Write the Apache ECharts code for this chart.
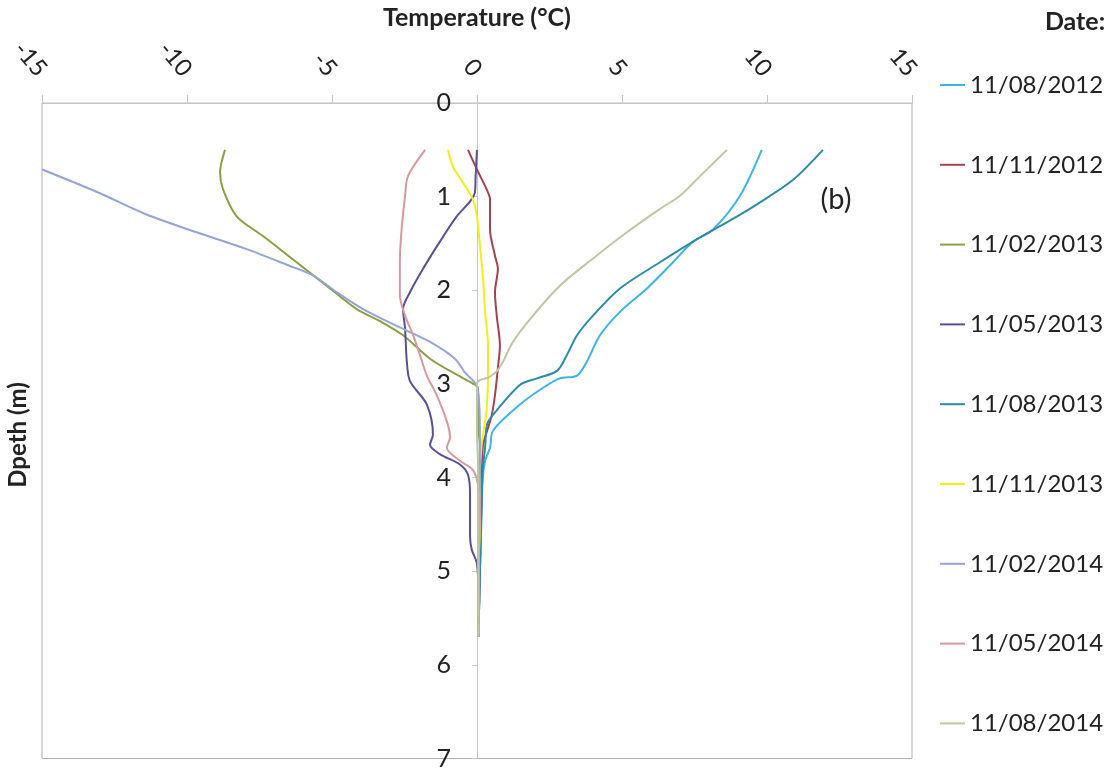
<!DOCTYPE html>
<html>
<head>
<meta charset="utf-8">
<script src="https://cdn.jsdelivr.net/npm/echarts@6/dist/echarts.min.js"></script>
<style>
html,body{margin:0;padding:0;background:#fff;}
#chart{width:1107px;height:771px;}
</style>
</head>
<body>
<div id="chart"></div>
<script>
// Depth profiles: [temperature (°C), depth (m)]
const dates = ['11/08/2012','11/11/2012','11/02/2013','11/05/2013','11/08/2013','11/11/2013','11/02/2014','11/05/2014','11/08/2014'];
const colors = ['#3fb3e3','#a3424f','#8a9f45','#5a4f93','#2e8aa6','#f0ef1c','#95a4d6','#d49a9e','#bec6a2'];
const xTicks = [-15,-10,-5,0,5,10,15];
const yTicks = [0,1,2,3,4,5,6,7];

const s2012_08 = [[9.82,0.5],[9.07,0.99],[8.14,1.35],[7.45,1.48],[6.76,1.70],[5.86,1.98],[4.93,2.23],[4.24,2.48],[3.79,2.76],[3.45,2.91],[2.86,2.94],[2.28,3.04],[1.48,3.22],[0.55,3.50],[0.45,3.68],[0.28,3.82],[0.2,4.0],[0.15,4.5],[0.1,5.0],[0.05,5.7]];
const s2012_11 = [[-0.31,0.5],[0,0.71],[0.33,0.92],[0.45,1.03],[0.45,1.35],[0.62,1.63],[0.72,1.77],[0.62,2.02],[0.68,2.27],[0.79,2.59],[0.72,2.83],[0.62,3.12],[0.51,3.33],[0.35,3.5],[0.21,3.65],[0.16,3.92],[0.15,4.3],[0.1,5.0],[0.05,5.7]];
const s2013_02 = [[-8.69,0.5],[-8.86,0.74],[-8.76,0.92],[-8.29,1.21],[-7.38,1.42],[-6.22,1.70],[-5.07,1.98],[-4.15,2.20],[-3.34,2.33],[-2.55,2.48],[-1.62,2.73],[-0.59,2.92],[-0.17,2.99],[0.03,3.04],[0.05,3.5],[0.1,3.65],[0.1,4.0],[0.1,4.5],[0.05,5.0],[0.05,5.7]];
const s2013_05 = [[0,0.5],[-0.05,0.8],[-0.07,0.95],[-0.24,1.05],[-0.70,1.21],[-1.28,1.48],[-1.86,1.77],[-2.31,2.02],[-2.55,2.2],[-2.48,2.41],[-2.42,2.76],[-2.31,2.97],[-1.73,3.22],[-1.52,3.54],[-1.62,3.65],[-1.28,3.75],[-0.59,3.86],[-0.31,3.97],[-0.24,4.18],[-0.24,4.63],[-0.18,4.77],[0,4.92],[0.05,5.3],[0.05,5.7]];
const s2013_08 = [[11.93,0.5],[10.9,0.82],[9.76,1.06],[8.97,1.21],[7.45,1.48],[6.31,1.70],[4.93,1.98],[4.0,2.27],[3.45,2.48],[3.1,2.69],[2.76,2.86],[2.07,2.94],[1.48,3.01],[0.55,3.33],[0.34,3.44],[0.28,3.68],[0.2,3.9],[0.15,4.3],[0.1,5.0],[0.05,5.7]];
const s2013_11 = [[-1.0,0.5],[-0.83,0.68],[-0.48,0.85],[-0.14,1.03],[0,1.21],[0.1,1.52],[0.21,1.88],[0.28,2.23],[0.38,2.59],[0.38,2.94],[0.33,3.29],[0.28,3.40],[0.16,3.65],[0.1,4.0],[0.1,4.5],[0.05,5.0],[0.05,5.7]];
const s2014_02 = [[-15,0.71],[-13.1,0.95],[-11.4,1.19],[-9.67,1.38],[-7.94,1.56],[-6.45,1.74],[-5.66,1.84],[-4.84,2.02],[-3.93,2.20],[-2.77,2.38],[-1.62,2.55],[-0.76,2.73],[-0.41,2.88],[-0.07,2.99],[0.05,3.1],[0.1,3.5],[0.1,4.0],[0.05,5.0],[0.05,5.7]];
const s2014_05 = [[-1.79,0.5],[-2.38,0.78],[-2.48,0.99],[-2.60,1.35],[-2.66,1.70],[-2.66,2.05],[-2.48,2.27],[-2.2,2.48],[-1.97,2.69],[-1.73,2.91],[-1.39,3.12],[-1.04,3.40],[-0.93,3.57],[-1.04,3.68],[-0.59,3.82],[-0.14,3.92],[0.03,4.07],[0.1,4.35],[0.05,5.0],[0.05,5.7]];
const s2014_08 = [[8.62,0.5],[7.69,0.78],[7.0,0.99],[6.31,1.13],[5.17,1.38],[4.0,1.66],[2.86,1.95],[1.93,2.27],[1.24,2.55],[0.90,2.76],[0.69,2.86],[0.4,2.93],[0.1,2.96],[0,3.0],[0,3.5],[0.05,4.0],[0.05,5.0],[0.05,5.7]];

const seriesData = [s2012_08,s2012_11,s2013_02,s2013_05,s2013_08,s2013_11,s2014_02,s2014_05,s2014_08];

const FONT = 'Lato, "Open Sans", sans-serif';
const chart = echarts.init(document.getElementById('chart'), null, {renderer:'canvas'});

const GRID_L = 42, GRID_R = 195, W = 1107;
const plotW = W - GRID_L - GRID_R;

const option = {
  animation: false,
  backgroundColor: '#ffffff',
  color: colors,
  textStyle: {fontFamily: FONT},
  grid: {left: GRID_L, right: GRID_R, top: 103, bottom: 8, show: true, borderColor: '#b0b0b0', borderWidth: 1, containLabel: false},
  legend: {
    orient: 'vertical', left: 935, top: 68,
    icon: 'rect', itemWidth: 25, itemHeight: 2, itemGap: 55.8,
    textStyle: {fontFamily: FONT, fontSize: 24, color: '#222'},
    data: dates
  },
  xAxis: {
    type: 'value', position: 'top', min: -15, max: 15, interval: 5,
    name: 'Temperature (°C)', nameLocation: 'middle', nameGap: 70,
    nameTextStyle: {fontFamily: FONT, fontSize: 25, fontWeight: 'bold', color: '#222'},
    axisLine: {show: true, onZero: false, lineStyle: {color: '#c4c4c4'}},
    axisTick: {show: true, length: 8, lineStyle: {color: '#c4c4c4'}},
    axisLabel: {rotate: 50, margin: 30, fontSize: 24, color: '#222', fontFamily: FONT,
      formatter: v => xTicks.includes(v) ? String(v) : ''},
    splitLine: {show: false}
  },
  yAxis: {
    type: 'value', inverse: true, min: 0, max: 7, interval: 1,
    position: 'left', offset: -plotW / 2,
    axisLine: {show: true, onZero: false, lineStyle: {color: '#c3c3d3'}},
    axisTick: {show: true, length: 5, lineStyle: {color: '#c8c8c8'}},
    axisLabel: {margin: 26, fontSize: 25, color: '#222', fontFamily: FONT,
      formatter: v => yTicks.includes(v) ? String(v) : ''},
    splitLine: {show: false}
  },
  graphic: [
    {type: 'text', x: 18, y: 435, rotation: Math.PI/2,
     style: {text: 'Dpeth (m)', font: 'bold 24px ' + FONT, fill: '#222', textAlign: 'center', textVerticalAlign: 'middle'}},
    {type: 'text', x: 1075, y: 22,
     style: {text: 'Date:', font: 'bold 25px ' + FONT, fill: '#222', textAlign: 'center', textVerticalAlign: 'middle'}},
    {type: 'text', x: 836, y: 200,
     style: {text: '(b)', font: '29px ' + FONT, fill: '#222', textAlign: 'center', textVerticalAlign: 'middle'}}
  ],
  series: seriesData.map((d, i) => ({
    name: dates[i], type: 'line', data: d, smooth: 0.3, symbol: 'none',
    lineStyle: {width: 2, color: colors[i]}, clip: true
  }))
};
chart.setOption(option);
</script>
</body>
</html>
